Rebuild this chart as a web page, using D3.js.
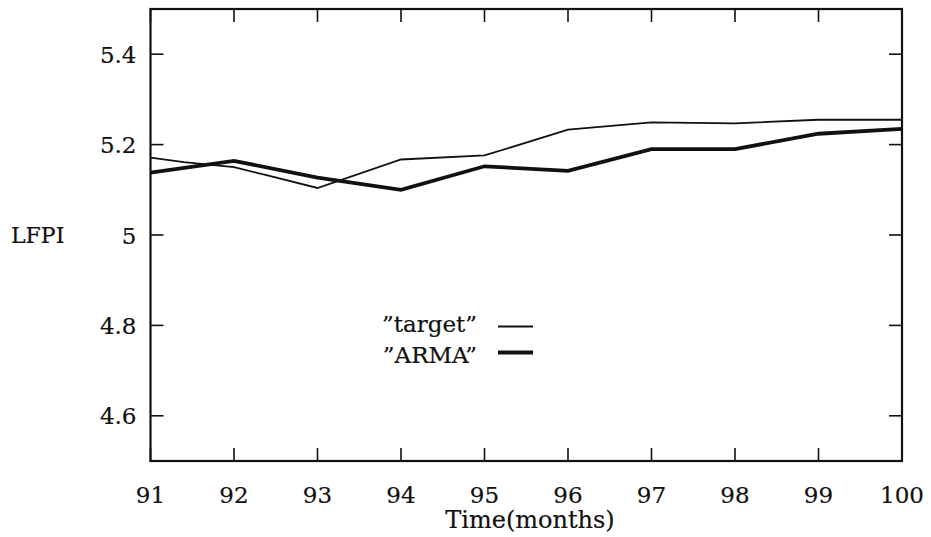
<!DOCTYPE html>
<html>
<head>
<meta charset="utf-8">
<script src="https://cdn.jsdelivr.net/npm/d3@7"></script>
<style>
body{margin:0;background:#fff;}
text{font-family:"DejaVu Serif",serif;fill:#111;stroke:#111;stroke-width:0.2;}
</style>
</head>
<body>
<div id="plot"></div>
<script>
// data
var targetT = [91, 91.4, 92, 92.4, 93, 94, 95, 96, 97, 98, 99, 100];
var targetV = [5.171, 5.161, 5.150, 5.132, 5.104, 5.167, 5.176, 5.233, 5.249, 5.247, 5.255, 5.255];
var armaT = [91, 92, 93, 94, 95, 96, 97, 98, 99, 100];
var armaV = [5.138, 5.164, 5.127, 5.100, 5.152, 5.142, 5.190, 5.190, 5.224, 5.235];
var xTicks = [91, 92, 93, 94, 95, 96, 97, 98, 99, 100];
var yTicks = [4.6, 4.8, 5, 5.2, 5.4];

var W = 931, H = 537;
var margin = {t:9, r:29, b:76, l:150.5};

var svg = d3.select('#plot').append('svg')
	.attr('width', W)
	.attr('height', H);

var x = d3.scaleLinear().domain([91, 100]).range([margin.l, W - margin.r]);
var y = d3.scaleLinear().domain([4.5, 5.5]).range([H - margin.b, margin.t]);

var tk = 13;

// ticks, inward on all four sides
yTicks.forEach(function(v){
	svg.append('line').attr('x1', x(91)).attr('x2', x(91) + tk)
		.attr('y1', y(v)).attr('y2', y(v)).attr('stroke', '#111').attr('stroke-width', 1.6);
	svg.append('line').attr('x1', x(100)).attr('x2', x(100) - tk)
		.attr('y1', y(v)).attr('y2', y(v)).attr('stroke', '#111').attr('stroke-width', 1.6);
	svg.append('text').attr('x', x(91) - 14).attr('y', y(v) + 8.5)
		.attr('text-anchor', 'end').style('font-size', '23px').text(d3.format('')(v));
});
xTicks.forEach(function(v){
	svg.append('line').attr('x1', x(v)).attr('x2', x(v))
		.attr('y1', y(4.5)).attr('y2', y(4.5) - tk).attr('stroke', '#111').attr('stroke-width', 1.6);
	svg.append('line').attr('x1', x(v)).attr('x2', x(v))
		.attr('y1', y(5.5)).attr('y2', y(5.5) + tk).attr('stroke', '#111').attr('stroke-width', 1.6);
	svg.append('text').attr('x', x(v)).attr('y', y(4.5) + 42)
		.attr('text-anchor', 'middle').style('font-size', '23px').text(v);
});

// frame
svg.append('rect')
	.attr('x', x(91)).attr('y', y(5.5))
	.attr('width', x(100) - x(91)).attr('height', y(4.5) - y(5.5))
	.attr('fill', 'none').attr('stroke', '#111').attr('stroke-width', 2.2);

var line = d3.line()
	.x(function(d){ return x(d[0]); })
	.y(function(d){ return y(d[1]); });

svg.append('path')
	.datum(d3.zip(targetT, targetV))
	.attr('d', line)
	.attr('fill', 'none').attr('stroke', '#111').attr('stroke-width', 1.8);

svg.append('path')
	.datum(d3.zip(armaT, armaV))
	.attr('d', line)
	.attr('fill', 'none').attr('stroke', '#111').attr('stroke-width', 3.8);

// legend
svg.append('text').attr('x', 477).attr('y', 332)
	.attr('text-anchor', 'end').style('font-size', '23px').text('\u201dtarget\u201d');
svg.append('line').attr('x1', 498).attr('x2', 533).attr('y1', 326.5).attr('y2', 326.5)
	.attr('stroke', '#111').attr('stroke-width', 1.8);
svg.append('text').attr('x', 477).attr('y', 362.5)
	.attr('text-anchor', 'end').style('font-size', '23px').text('\u201dARMA\u201d');
svg.append('line').attr('x1', 498).attr('x2', 533).attr('y1', 352.5).attr('y2', 352.5)
	.attr('stroke', '#111').attr('stroke-width', 3.8);

// axis titles
svg.append('text').attr('x', 530).attr('y', 528)
	.attr('text-anchor', 'middle').style('font-size', '24px').text('Time(months)');
svg.append('text').attr('x', 11).attr('y', 243)
	.style('font-size', '22px').text('LFPI');
</script>
</body>
</html>
